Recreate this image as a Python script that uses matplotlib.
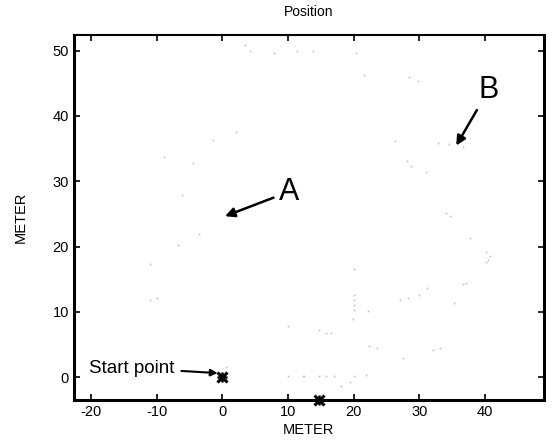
import matplotlib
matplotlib.use("Agg")
import matplotlib.pyplot as plt
import numpy as np

# faint position samples (meters)
pos_x = [3.5, 4.2, 7.8, 11.3, 2.0, -1.5, -8.9, -4.4, -6.2,
         13.8, 20.4, 21.6, 28.4, 29.8, 26.3, 32.8, 34.5, 36.6, 28.1, 28.7, 31.0, 34.1, 34.7,
         -3.6, -6.7, -11.1, -11.1, -10.0, 10.0, 10.0, 12.5, 0.6,
         37.7, 40.1, 40.7, 40.5, 40.1, 20.0, 37.1, 36.6, 31.2, 29.9, 28.3, 27.1, 35.3,
         20.0, 20.0, 20.0, 20.0, 19.9, 22.2, 14.7, 15.8, 16.5, 22.4, 23.6, 32.0, 33.1, 27.5,
         12.3, 14.7, 15.8, 17.0, 20.0, 21.8, 19.5, 18.1]
pos_y = [50.8, 50.0, 49.6, 50.0, 37.5, 36.3, 33.7, 32.8, 27.9,
         50.0, 49.6, 46.2, 46.0, 45.4, 36.1, 35.8, 35.7, 35.3, 33.1, 32.3, 31.4, 25.2, 24.7,
         22.0, 20.3, 17.3, 11.8, 12.1, 7.9, 0.2, 0.2, 1.6,
         21.3, 19.2, 18.6, 18.0, 17.7, 16.5, 14.4, 14.2, 13.6, 12.6, 12.2, 11.8, 11.4,
         12.6, 11.8, 11.0, 10.3, 8.9, 10.1, 7.2, 6.7, 6.7, 4.8, 4.5, 4.1, 4.5, 2.9,
         0.2, 0.2, 0.2, 0.2, 0.2, 0.3, -0.8, -1.4]

start_pt = (0.0, 0.0)
end_pt = (14.7, -3.5)

plt.rcParams["font.family"] = ["Liberation Sans", "DejaVu Sans"]
plt.rcParams["axes.unicode_minus"] = False

fig = plt.figure(figsize=(5.55, 4.43), dpi=100)
ax = fig.add_axes([0.1333, 0.097, 0.846, 0.824])

ax.plot(pos_x, pos_y, ls="none", marker="s", ms=1.2, mec="none", color="#c0c0c0")

for px, py in [start_pt, end_pt]:
    ax.plot(px, py, marker="x", ms=7, mew=2.2, color="black", clip_on=False, zorder=5)
    ax.plot(px, py, marker="+", ms=7, mew=1.8, color="black", clip_on=False, zorder=5)

ax.set_xlim(-22.6, 48.9)
ax.set_ylim(-3.5, 52.4)
ax.set_xticks([-20, -10, 0, 10, 20, 30, 40])
ax.set_yticks([0, 10, 20, 30, 40, 50])
ax.tick_params(direction="in", top=True, right=True, length=4, width=1.2, labelsize=10.5)
for side in ["left", "bottom", "right"]:
    ax.spines[side].set_linewidth(2.2)
ax.spines["top"].set_linewidth(1.5)

ax.set_title("Position", fontsize=10, pad=14)
ax.set_xlabel("METER", fontsize=10.5, labelpad=3)
ax.set_ylabel("METER", fontsize=10.5, labelpad=18)

arrow = dict(arrowstyle="-|>", color="black", lw=1.8, mutation_scale=14)
ax.annotate("A", xy=(0.0, 24.5), xytext=(8.6, 28.4), fontsize=22,
            va="center", ha="left", arrowprops=arrow)
ax.annotate("B", xy=(35.4, 35.1), xytext=(39.0, 44.0), fontsize=22,
            va="center", ha="left", arrowprops=arrow)
ax.annotate("Start point", xy=(-0.3, 0.6), xytext=(-20.3, 1.4), fontsize=13.5,
            va="center", ha="left",
            arrowprops=dict(arrowstyle="-|>", color="black", lw=1.5, mutation_scale=10,
                            shrinkA=3))

fig.savefig("out.png", dpi=100)
